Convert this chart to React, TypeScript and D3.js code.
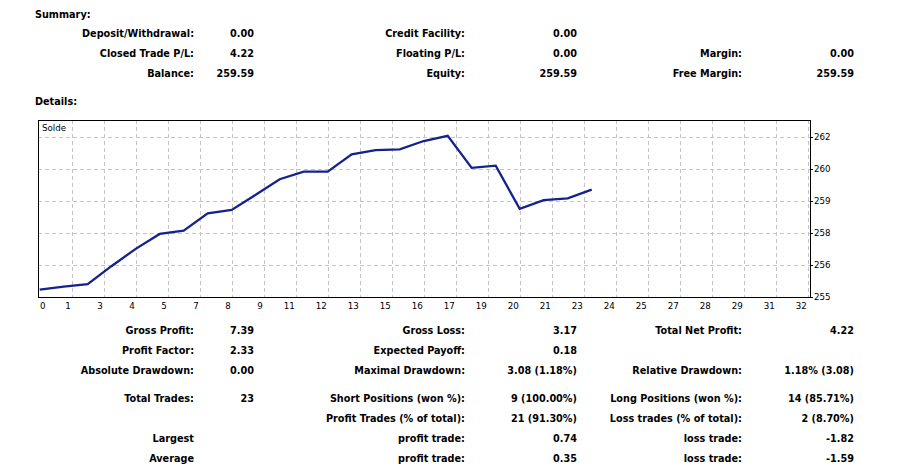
import React from "react";
import * as d3 from "d3";

// ---- data ----
const balance = [
  255.37, 255.5, 255.6, 256.37, 257.09, 257.72, 257.86, 258.59, 258.73, 259.37,
  260.03, 260.35, 260.35, 261.08, 261.26, 261.29, 261.64, 261.86, 260.51, 260.6,
  258.78, 259.15, 259.22, 259.59,
];
const xTickLabels = [
  "0", "1", "3", "4", "5", "7", "8", "9", "11", "12", "13", "15", "16", "17",
  "19", "20", "21", "23", "24", "25", "27", "28", "29", "31", "32",
];
const yTickLabels = ["255", "256", "258", "259", "260", "262"];
const X_MAX = 32;
const Y_MIN = 255.06;
const Y_STEP = 1.35;

const summaryTitle = "Summary:";
const detailsTitle = "Details:";
const seriesName = "Solde";

const summaryRows = [
  ["Deposit/Withdrawal:", "0.00", "Credit Facility:", "0.00", "", ""],
  ["Closed Trade P/L:", "4.22", "Floating P/L:", "0.00", "Margin:", "0.00"],
  ["Balance:", "259.59", "Equity:", "259.59", "Free Margin:", "259.59"],
];
const detailRows = [
  ["Gross Profit:", "7.39", "Gross Loss:", "3.17", "Total Net Profit:", "4.22"],
  ["Profit Factor:", "2.33", "Expected Payoff:", "0.18", "", ""],
  ["Absolute Drawdown:", "0.00", "Maximal Drawdown:", "3.08 (1.18%)", "Relative Drawdown:", "1.18% (3.08)"],
  ["Total Trades:", "23", "Short Positions (won %):", "9 (100.00%)", "Long Positions (won %):", "14 (85.71%)"],
  ["", "", "Profit Trades (% of total):", "21 (91.30%)", "Loss trades (% of total):", "2 (8.70%)"],
  ["Largest", "", "profit trade:", "0.74", "loss trade:", "-1.82"],
  ["Average", "", "profit trade:", "0.35", "loss trade:", "-1.59"],
];

// ---- layout ----
const W = 917;
const H = 471;
const frame = { left: 38, right: 810, top: 119.5, bottom: 297 };
const colRight = [194, 254, 465, 577, 742, 854];
const summaryY = [34, 54, 74];
const detailY = [331, 351, 371, 399, 419, 439, 459];

const boldFont = "'DejaVu Sans', Verdana, sans-serif";
const axisFont = "'DejaVu Sans', Tahoma, sans-serif";

function Table({ rows, ys }: { rows: string[][]; ys: number[] }) {
  return (
    <g>
      {rows.map((r, ri) =>
        r.map((t, ci) =>
          t ? (
            <text
              key={ri + "-" + ci}
              x={colRight[ci]}
              y={ys[ri]}
              dy="0.36em"
              textAnchor="end"
              fontFamily={boldFont}
              fontWeight="bold"
              fontSize={9.7}
              fill="#000"
            >
              {t}
            </text>
          ) : null
        )
      )}
    </g>
  );
}

export default function App() {
  const x = d3.scaleLinear().domain([0, X_MAX]).range([39.7, 807.7]);
  const y = d3
    .scaleLinear()
    .domain([Y_MIN, Y_MIN + Y_STEP * (yTickLabels.length - 1)])
    .range([frame.bottom, frame.bottom - 32 * (yTickLabels.length - 1)]);

  const xTicks = xTickLabels.map((_, i) => (i * X_MAX) / (xTickLabels.length - 1));
  const yTicks = yTickLabels.map((_, i) => Y_MIN + i * Y_STEP);

  const line = d3
    .line<number>()
    .x((_, i) => x(i))
    .y((d) => y(d));

  return (
    <svg
      width={W}
      height={H}
      style={{ position: "absolute", left: 0, top: 0, background: "#fff" }}
    >
      <rect x={0} y={0} width={W} height={H} fill="#fff" />
      <text x={35} y={15} dy="0.36em" fontFamily={boldFont} fontWeight="bold" fontSize={9.7}>
        {summaryTitle}
      </text>
      <Table rows={summaryRows} ys={summaryY} />
      <text x={35} y={101.5} dy="0.36em" fontFamily={boldFont} fontWeight="bold" fontSize={9.7}>
        {detailsTitle}
      </text>

      {/* grid */}
      <g stroke="#c4c4c4" strokeWidth={1} strokeDasharray="4 3" shapeRendering="crispEdges">
        {xTicks.slice(1).map((t, i) => (
          <line key={"vx" + i} x1={Math.round(x(t)) + 0.5} x2={Math.round(x(t)) + 0.5} y1={frame.top} y2={frame.bottom} />
        ))}
        {yTicks.slice(1).map((t, i) => (
          <line key={"hy" + i} x1={frame.left} x2={frame.right} y1={Math.round(y(t)) + 0.5} y2={Math.round(y(t)) + 0.5} />
        ))}
      </g>

      {/* frame */}
      <rect
        x={frame.left + 0.5}
        y={frame.top + 0.5}
        width={frame.right - frame.left}
        height={frame.bottom - frame.top}
        fill="none"
        stroke="#000"
        strokeWidth={1}
        shapeRendering="crispEdges"
      />

      {/* series */}
      <path d={line(balance) || ""} fill="none" stroke="#14228c" strokeWidth={2.3} strokeLinejoin="miter" />

      <text x={42} y={127.5} dy="0.36em" fontFamily={axisFont} fontSize={8.7} fill="#000">
        {seriesName}
      </text>

      {/* y axis (right) */}
      {yTicks.map((t, i) => (
        <g key={"yt" + i}>
          <line x1={frame.right} x2={frame.right + 3} y1={Math.round(y(t)) + 0.5} y2={Math.round(y(t)) + 0.5} stroke="#000" shapeRendering="crispEdges" />
          <text x={frame.right + 4} y={y(t)} dy="0.36em" fontFamily={axisFont} fontSize={8.7} fill="#000">
            {yTickLabels[i]}
          </text>
        </g>
      ))}

      {/* x axis labels */}
      {xTicks.map((t, i) => (
        <text
          key={"xt" + i}
          x={i === 0 ? 40 : x(t) - 1}
          y={305.5}
          dy="0.36em"
          textAnchor={i === 0 ? "start" : "end"}
          fontFamily={axisFont}
          fontSize={8.7}
          fill="#000"
        >
          {xTickLabels[i]}
        </text>
      ))}

      <Table rows={detailRows} ys={detailY} />
    </svg>
  );
}
